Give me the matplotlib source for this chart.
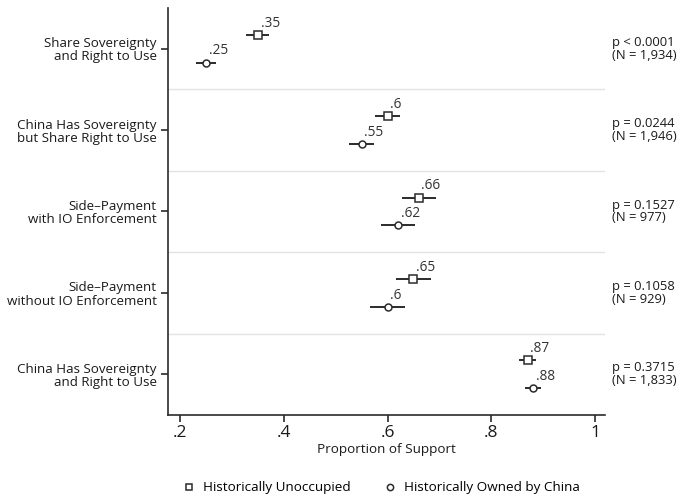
import matplotlib
matplotlib.use("Agg")
import matplotlib.pyplot as plt
from matplotlib.lines import Line2D
import numpy as np

plt.rcParams['font.family'] = ['Open Sans', 'DejaVu Sans']

categories = [
    "Share Sovereignty\nand Right to Use",
    "China Has Sovereignty\nbut Share Right to Use",
    "Side\u2013Payment\nwith IO Enforcement",
    "Side\u2013Payment\nwithout IO Enforcement",
    "China Has Sovereignty\nand Right to Use",
]
unoccupied = [0.35, 0.60, 0.66, 0.65, 0.87]
unoccupied_ci = [0.022, 0.024, 0.033, 0.033, 0.016]
owned = [0.25, 0.55, 0.62, 0.60, 0.88]
owned_ci = [0.019, 0.024, 0.032, 0.034, 0.015]
p_values = ["p < 0.0001", "p = 0.0244", "p = 0.1527", "p = 0.1058", "p = 0.3715"]
n_obs = ["1,934", "1,946", "977", "929", "1,833"]
xticks = [0.2, 0.4, 0.6, 0.8, 1.0]
xtick_labels = [".2", ".4", ".6", ".8", "1"]


def short(v):
    # ".35", ".6" style labels
    return f"{v:.2f}".lstrip('0').rstrip('0')


fig = plt.figure(figsize=(6.81, 4.96), dpi=100)
ax = fig.add_axes([168 / 681, 1 - 415 / 496, (605 - 168) / 681, (415 - 8) / 496])

ink = "#2b2b2b"
txt = "#1a1a1a"
rows = np.arange(1, len(categories) + 1)
off = 0.17

for i, r in enumerate(rows):
    yu = r - off
    yo = r + off
    ax.errorbar(unoccupied[i], yu, xerr=unoccupied_ci[i], fmt='s', ms=5.5,
                mfc='white', mec=ink, mew=1.1, ecolor=ink, elinewidth=1.4,
                capsize=0, zorder=3)
    ax.errorbar(owned[i], yo, xerr=owned_ci[i], fmt='o', ms=5,
                mfc='white', mec=ink, mew=1.1, ecolor=ink, elinewidth=1.4,
                capsize=0, zorder=3)
    ax.annotate(short(unoccupied[i]), (unoccupied[i], yu),
                xytext=(2, 3), textcoords='offset points', fontsize=9.8,
                color='#333333', ha='left', va='bottom')
    ax.annotate(short(owned[i]), (owned[i], yo),
                xytext=(2, 3), textcoords='offset points', fontsize=9.8,
                color='#333333', ha='left', va='bottom')
    ax.annotate(f"{p_values[i]}\n(N = {n_obs[i]})", xy=(1, r),
                xycoords=('axes fraction', 'data'), xytext=(5, 0),
                textcoords='offset points', fontsize=9.4, color=txt,
                ha='left', va='center', linespacing=0.98, fontweight='medium')

for b in rows[:-1] + 0.5:
    ax.axhline(b, color='#e3e3e3', lw=1.0, zorder=1)

ax.set_ylim(5.5, 0.5)
ax.set_xlim(0.177, 1.019)
ax.set_yticks(rows)
ax.set_yticklabels(categories, fontsize=9.6, ha='right', linespacing=1.02,
                   color=txt, fontweight='medium')
ax.set_xticks(xticks)
ax.set_xticklabels(xtick_labels, fontsize=12.5, color=txt)
ax.set_xlabel("Proportion of Support", fontsize=9.7, color=txt, labelpad=2,
              fontweight='medium')

for s in ['top', 'right']:
    ax.spines[s].set_visible(False)
for s in ['left', 'bottom']:
    ax.spines[s].set_color(ink)
    ax.spines[s].set_linewidth(1.2)
ax.tick_params(axis='both', direction='out', color=ink, width=1.2, length=5)
ax.tick_params(axis='y', pad=3)
ax.tick_params(axis='x', pad=2)

handles = [
    Line2D([], [], marker='s', ls='none', ms=5, mfc='white', mec=ink, mew=1.1),
    Line2D([], [], marker='o', ls='none', ms=4.5, mfc='white', mec=ink, mew=1.1),
]
fig.legend(handles, ["Historically Unoccupied", "Historically Owned by China"],
           loc='center', bbox_to_anchor=(381 / 681, 1 - 488 / 496), ncol=2,
           frameon=False, prop={'size': 9.7, 'weight': 'medium'},
           handletextpad=0.55, columnspacing=2.4,
           handlelength=1.0, borderpad=0, borderaxespad=0)

fig.savefig("out.png", dpi=100)
